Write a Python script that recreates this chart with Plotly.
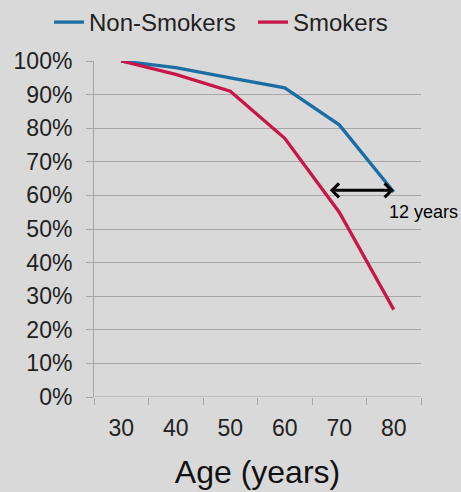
import plotly.graph_objects as go

# Survival by age, share still alive
ages = ["30", "40", "50", "60", "70", "80"]
non_smokers = [1.00, 0.98, 0.95, 0.92, 0.81, 0.61]
smokers = [1.00, 0.96, 0.91, 0.77, 0.55, 0.26]

# Gap between the curves at the non-smoker 80-year level
gap_start_age = 68
gap_end_age = 80
gap_label = "12 years"

BLUE = "#1b6ea3"
RED = "#c8164b"
BG = "#d9d9d9"
GRID = "#a6a6a6"
FONT = "Liberation Sans, Arial, sans-serif"


def age_to_pos(age):
    # position on the category axis (30 -> 0, 40 -> 1, ...)
    return (age - int(ages[0])) / 10.0


fig = go.Figure()
fig.add_trace(go.Scatter(x=ages, y=non_smokers, mode="lines", name="Non-Smokers",
                         line=dict(color=BLUE, width=3.3), legend="legend"))
fig.add_trace(go.Scatter(x=ages, y=smokers, mode="lines", name="Smokers",
                         line=dict(color=RED, width=3.3), legend="legend2"))

# double-headed arrow
fig.add_annotation(x=age_to_pos(gap_end_age), y=non_smokers[-1] + 0.005,
                   ax=age_to_pos(gap_start_age), ay=non_smokers[-1] + 0.005,
                   xref="x", yref="y", axref="x", ayref="y",
                   text="", showarrow=True, arrowhead=4, startarrowhead=4,
                   arrowside="end+start", arrowsize=0.9, startarrowsize=0.9,
                   arrowwidth=3, arrowcolor="black")
fig.add_annotation(x=age_to_pos(gap_end_age) - 0.12, y=non_smokers[-1] - 0.06,
                   xref="x", yref="y", text=gap_label, showarrow=False,
                   xanchor="left", yanchor="middle",
                   font=dict(family=FONT, size=18, color="black"))

legend_style = dict(orientation="h", xref="container", y=1.0, yref="container",
                    xanchor="left", yanchor="top",
                    font=dict(family=FONT, size=24, color="#222222"),
                    bgcolor="rgba(0,0,0,0)", itemwidth=30)

fig.update_layout(
    width=461, height=492,
    margin=dict(l=94, r=40, t=61, b=95, autoexpand=False),
    paper_bgcolor=BG, plot_bgcolor=BG,
    font=dict(family=FONT, size=23, color="#222222"),
    showlegend=True,
    legend=dict(x=49 / 461, **legend_style),
    legend2=dict(x=253 / 461, **legend_style),
    xaxis=dict(type="category", tickson="boundaries", ticks="outside", ticklen=7,
               tickcolor=GRID, tickwidth=1, showgrid=False, showline=False,
               zeroline=False, range=[-0.5, 5.5], ticklabelstandoff=15,
               tickfont=dict(family=FONT, size=23, color="#222222"),
               title=dict(text="Age (years)", standoff=20,
                          font=dict(family=FONT, size=32, color="#111111"))),
    yaxis=dict(range=[0, 1], dtick=0.1, tickformat=".0%", ticks="outside",
               ticklen=7, tickcolor=GRID, showgrid=True, gridcolor=GRID,
               gridwidth=1, zeroline=False, showline=True, linecolor=GRID,
               linewidth=1, ticklabelstandoff=9,
               tickfont=dict(family=FONT, size=23, color="#222222")),
)
# baseline at 0%
fig.add_shape(type="line", xref="paper", yref="y", x0=0, x1=1, y0=0, y1=0,
              line=dict(color=GRID, width=1), layer="below")

fig.write_html("out.html")
